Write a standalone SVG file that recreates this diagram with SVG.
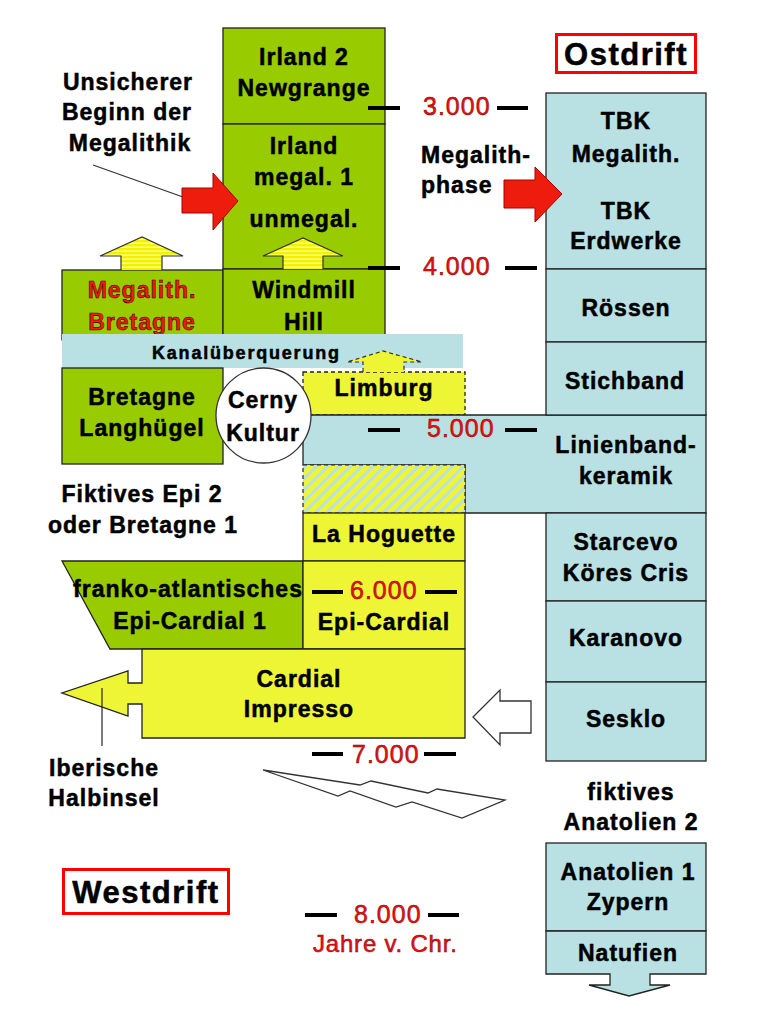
<svg xmlns="http://www.w3.org/2000/svg" width="768" height="1024" viewBox="0 0 768 1024">
<defs>
<style>
.t{font-family:"Liberation Sans",Arial,sans-serif;font-weight:bold;font-size:23px;letter-spacing:1px;text-anchor:middle;fill:#000;stroke:#000;stroke-width:0.5}
.s{font-size:18px;letter-spacing:1.8px}
.big{font-size:31px;letter-spacing:1.5px}
.r{fill:#f01a10;stroke:#400;stroke-width:0.6}
.d{font-family:"Liberation Sans",Arial,sans-serif;font-size:25px;letter-spacing:1px;fill:#f01010;stroke:#800;stroke-width:0.5}
.j{font-size:24px;letter-spacing:0.8px}
.g{fill:#99cc00;stroke:#222;stroke-width:1.3}
.y{fill:#eef535;stroke:#222;stroke-width:1.3}
.b{fill:#b9e0e3;stroke:#222;stroke-width:1.3}
.dash{stroke:#000;stroke-width:4}
.dsh{stroke-dasharray:4 3}
.red{fill:#ee1c0c;stroke:#a00;stroke-width:1}
.ya{fill:url(#stripe);stroke:#333;stroke-width:1.2}
.wh{fill:#fff;stroke:#333;stroke-width:1.3}
</style>
<pattern id="hatch" patternUnits="userSpaceOnUse" width="8" height="8" patternTransform="rotate(45)">
<rect width="8" height="8" fill="#eef535"/>
<rect width="3" height="8" fill="#b9e0e3"/>
</pattern>
<pattern id="stripe" patternUnits="userSpaceOnUse" width="4" height="4">
<rect width="4" height="4" fill="#f2f200"/>
<rect y="2.5" width="4" height="1.5" fill="#ffff99"/>
</pattern>
</defs>
<rect width="768" height="1024" fill="#fff"/>

<g id="irland2"><rect class="g" x="223" y="28" width="162" height="96"/>
<text class="t" x="304" y="65">Irland 2</text><text class="t" x="304" y="96">Newgrange</text></g>
<g id="irland1"><rect class="g" x="223" y="124" width="162" height="145"/>
<text class="t" x="304" y="154">Irland</text><text class="t" x="304" y="185">megal. 1</text><text class="t" x="304" y="227">unmegal.</text></g>
<g id="megbret"><rect class="g" x="62" y="270" width="161" height="70"/>
<text class="t r" x="142" y="298">Megalith.</text><text class="t r" x="142" y="330">Bretagne</text></g>
<g id="windmill"><rect class="g" x="223" y="269" width="162" height="71"/>
<text class="t" x="304" y="298">Windmill</text><text class="t" x="304" y="330">Hill</text></g>
<g id="kanal"><rect x="62" y="334" width="401" height="34" fill="#b9e0e3"/>
<text class="t s" x="152" y="359" style="text-anchor:start">Kanalüberquerung</text></g>
<g id="langhuegel"><rect class="g" x="62" y="368" width="161" height="96"/>
<text class="t" x="142" y="405">Bretagne</text><text class="t" x="142" y="436">Langhügel</text></g>
<g id="limburg"><rect class="y dsh" x="303" y="372" width="162" height="43"/>
<text class="t" x="384" y="396">Limburg</text></g>
<g id="linienband"><path class="b" d="M303,415 H706 V513 H465 V465 H303 Z"/>
<text class="t" x="626" y="453">Linienband-</text><text class="t" x="626" y="484">keramik</text></g>
<g id="hatched"><rect x="303" y="465" width="162" height="48" fill="url(#hatch)" stroke="#222" stroke-width="1.2" stroke-dasharray="4 3"/></g>
<g id="cerny"><circle class="wh" cx="263.5" cy="415.5" r="47.5"/>
<text class="t" x="263" y="408">Cerny</text><text class="t" x="263" y="441">Kultur</text></g>
<g id="hoguette"><rect class="y" x="303" y="513" width="162" height="48"/>
<text class="t" x="384" y="542">La Hoguette</text></g>
<g id="frankoatl"><path class="g" d="M62,561 H303 V649 H110 Z"/>
<text class="t" x="188" y="597">franko-atlantisches</text><text class="t" x="190" y="629">Epi-Cardial 1</text></g>
<g id="epicardial"><rect class="y" x="303" y="561" width="162" height="88"/>
<text class="t" x="384" y="630">Epi-Cardial</text></g>
<g id="cardial"><path class="y" d="M142,649 H465 V738 H142 V704 H128 V716 L62,693 L128,671 V683 H142 Z"/>
<text class="t" x="299" y="687">Cardial</text><text class="t" x="299" y="717">Impresso</text></g>

<g id="ostdrift"><rect x="556.5" y="34.5" width="139" height="38" fill="#fff" stroke="#f00" stroke-width="3"/>
<text class="t big" x="626" y="65">Ostdrift</text></g>
<g id="tbk"><rect class="b" x="546" y="93" width="160" height="176"/>
<text class="t" x="626" y="129">TBK</text><text class="t" x="626" y="162">Megalith.</text><text class="t" x="626" y="219">TBK</text><text class="t" x="626" y="249">Erdwerke</text></g>
<g id="roessen"><rect class="b" x="546" y="269" width="160" height="73"/>
<text class="t" x="626" y="316">Rössen</text></g>
<g id="stichband"><rect class="b" x="546" y="342" width="160" height="73"/>
<text class="t" x="625" y="389">Stichband</text></g>
<g id="starcevo"><rect class="b" x="546" y="513" width="160" height="88"/>
<text class="t" x="626" y="550">Starcevo</text><text class="t" x="626" y="581">Köres Cris</text></g>
<g id="karanovo"><rect class="b" x="546" y="601" width="160" height="81"/>
<text class="t" x="626" y="646">Karanovo</text></g>
<g id="sesklo"><rect class="b" x="546" y="682" width="160" height="79"/>
<text class="t" x="626" y="727">Sesklo</text></g>
<g id="anatolien2"><text class="t" x="631" y="800">fiktives</text><text class="t" x="631" y="830">Anatolien 2</text></g>
<g id="anatolien1"><rect class="b" x="546" y="843" width="160" height="88"/>
<text class="t" x="628" y="880">Anatolien 1</text><text class="t" x="628" y="910">Zypern</text></g>
<g id="natufien"><path class="b" d="M546,931 H706 V974 H650 V985 H670 L629,996 L589,985 H610 V974 H546 Z"/>
<text class="t" x="628" y="961">Natufien</text></g>

<g id="labels">
<text class="t" x="128" y="90">Unsicherer</text><text class="t" x="127" y="120">Beginn der</text><text class="t" x="130" y="151">Megalithik</text>
<text class="t" x="421" y="163" style="text-anchor:start">Megalith-</text><text class="t" x="421" y="193" style="text-anchor:start">phase</text>
<text class="t" x="142" y="502">Fiktives Epi 2</text><text class="t" x="143" y="533">oder Bretagne 1</text>
<text class="t" x="104" y="776">Iberische</text><text class="t" x="104" y="806">Halbinsel</text>
</g>
<g id="westdrift"><rect x="63.5" y="869.5" width="165" height="44" fill="#fff" stroke="#f00" stroke-width="3"/>
<text class="t big" x="146" y="903">Westdrift</text></g>

<g id="timescale">
<line class="dash" x1="368" y1="108" x2="400" y2="108"/><line class="dash" x1="497" y1="108" x2="528" y2="108"/>
<text class="d" x="423" y="115">3.000</text>
<line class="dash" x1="368" y1="268" x2="400" y2="268"/><line class="dash" x1="505" y1="268" x2="537" y2="268"/>
<text class="d" x="423" y="275">4.000</text>
<line class="dash" x1="368" y1="430" x2="400" y2="430"/><line class="dash" x1="505" y1="430" x2="537" y2="430"/>
<text class="d" x="427" y="437">5.000</text>
<line class="dash" x1="312" y1="592" x2="343" y2="592"/><line class="dash" x1="425" y1="592" x2="457" y2="592"/>
<text class="d" x="350" y="599">6.000</text>
<line class="dash" x1="312" y1="754" x2="343" y2="754"/><line class="dash" x1="424" y1="754" x2="456" y2="754"/>
<text class="d" x="352" y="763">7.000</text>
<line class="dash" x1="305" y1="915" x2="337" y2="915"/><line class="dash" x1="428" y1="915" x2="459" y2="915"/>
<text class="d" x="354" y="923">8.000</text>
<text class="d j" x="313" y="952">Jahre v. Chr.</text>
</g>

<g id="connectors">
<line x1="93" y1="165" x2="183" y2="197" stroke="#333" stroke-width="1.2"/>
<polygon class="red" points="182,188 213,188 213,173 238,201 213,230 213,213 182,213"/>
<polygon class="red" points="504,180 535,180 535,167 562,194 535,222 535,208 504,208"/>
<path class="ya" d="M121,270 V256 H100 L142,237 L183,256 H162 V270"/>
<path class="ya" d="M283,269 V256 H263 L303,238 L343,256 H323 V269"/>
<path d="M363,372 V362 H347 L383,351 L422,362 H404 V372" fill="#eef535" stroke="#333" stroke-width="1.2" stroke-dasharray="4 3"/>
<path class="wh" d="M473,717 L500,690 V701 H531 V733 H500 V745 Z"/>
<polygon class="wh" points="263,770 360,785 371,781 428,793 437,789 505,800 462,818 412,802 396,807 350,791 338,796"/>
<line x1="102" y1="688" x2="102" y2="746" stroke="#222" stroke-width="1.2"/>
</g>
</svg>
